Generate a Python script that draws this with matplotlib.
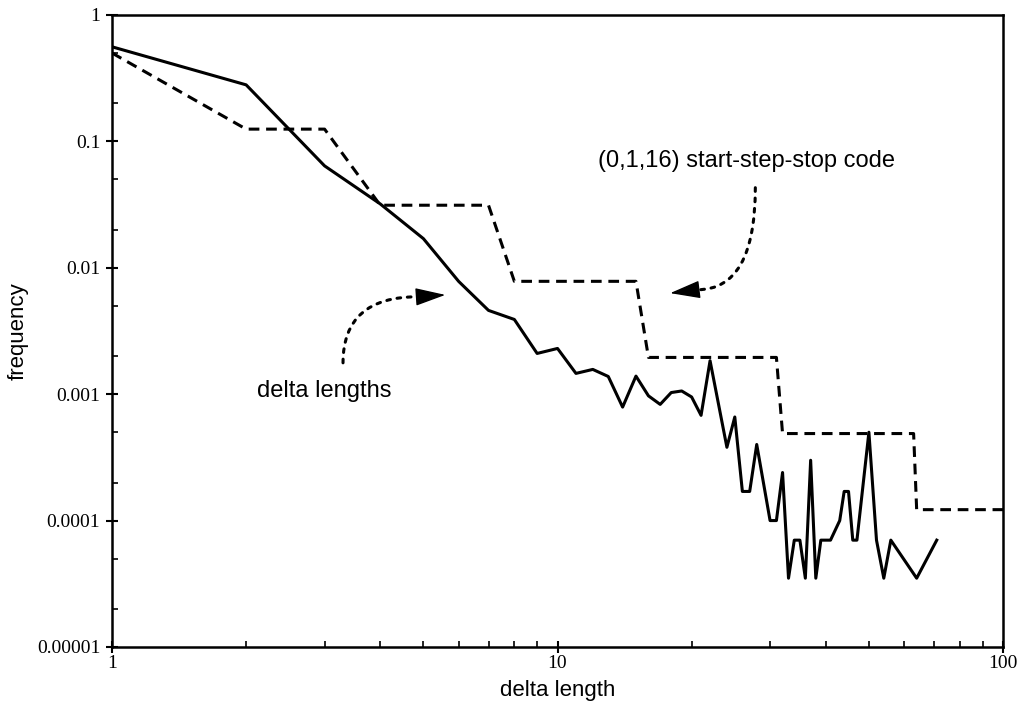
import matplotlib
matplotlib.use("Agg")
import matplotlib.pyplot as plt
from matplotlib.ticker import FixedLocator, FixedFormatter, LogLocator, NullFormatter

# measured delta lengths (zero counts are not plotted)
delta_x = [1, 2, 3, 4, 5, 6, 7, 8, 9, 10, 11, 12, 13, 14, 15, 16, 17, 18, 19, 20,
           21, 22, 24, 25, 26, 27, 28, 30, 31, 32, 33, 34, 35, 36, 37, 38, 39, 41,
           43, 44, 45, 46, 47, 50, 52, 54, 56, 64, 71]
delta_freq = [0.56, 0.28, 0.064, 0.032, 0.017, 0.0078, 0.0046, 0.0039, 0.0021, 0.0023,
              0.00146, 0.00157, 0.00138, 0.00079, 0.00139, 0.00097, 0.00083, 0.00103,
              0.00106, 0.00095, 0.00068, 0.00184, 0.00038, 0.00066, 0.00017, 0.00017,
              0.0004, 0.0001, 0.0001, 0.00024, 0.000035, 0.00007, 0.00007, 0.000035,
              0.0003, 0.000035, 0.00007, 0.00007, 0.0001, 0.00017, 0.00017, 0.00007,
              0.00007, 0.0005, 0.00007, 0.000035, 0.00007, 0.000035, 0.00007]

# (0,1,16) start-step-stop code
code_x = [1, 2, 3, 4, 7, 8, 15, 16, 31, 32, 63, 64, 100]
code_freq = [0.5, 0.125, 0.125, 0.03125, 0.03125, 0.0078125, 0.0078125,
             0.001953, 0.001953, 0.000488, 0.000488, 0.000122, 0.000122]

ytick_vals = [1e-5, 1e-4, 1e-3, 1e-2, 1e-1, 1]
ytick_labels = ["0.00001", "0.0001", "0.001", "0.01", "0.1", "1"]
xtick_vals = [1, 10, 100]
xtick_labels = ["1", "10", "100"]

sans = ["Liberation Sans", "DejaVu Sans"]
serif = ["Liberation Serif", "DejaVu Serif"]

fig = plt.figure(figsize=(10.24, 7.03), dpi=100)
ax = fig.add_axes([0.1094, 0.0797, 0.8701, 0.899])

ax.plot(delta_x, delta_freq, color="black", lw=2.2)
ax.plot(code_x, code_freq, color="black", lw=2.2, linestyle=(0, (3.5, 2.2)))

ax.set_xscale("log")
ax.set_yscale("log")
ax.set_xlim(1, 100)
ax.set_ylim(1e-5, 1)

ax.yaxis.set_major_locator(FixedLocator(ytick_vals))
ax.yaxis.set_major_formatter(FixedFormatter(ytick_labels))
ax.xaxis.set_major_locator(FixedLocator(xtick_vals))
ax.xaxis.set_major_formatter(FixedFormatter(xtick_labels))
ax.xaxis.set_minor_locator(LogLocator(base=10, subs=range(2, 10)))
ax.yaxis.set_minor_locator(LogLocator(base=10, subs=(2, 5)))
ax.xaxis.set_minor_formatter(NullFormatter())
ax.yaxis.set_minor_formatter(NullFormatter())

ax.tick_params(which="major", direction="inout", length=9, width=1.5,
               labelsize=14, top=False, right=False)
ax.tick_params(axis="x", which="major", pad=1)
ax.tick_params(axis="y", which="major", pad=4)
ax.tick_params(which="minor", direction="in", length=4, width=1.2,
               top=False, right=False)
for lab in ax.get_xticklabels() + ax.get_yticklabels():
    lab.set_family(serif)

for sp in ax.spines.values():
    sp.set_linewidth(1.8)

ax.set_xlabel("delta length", family=sans, fontsize=16, labelpad=6)
ax.set_ylabel("frequency", family=sans, fontsize=16, labelpad=6)

ax.text(26.5, 0.07, "(0,1,16) start-step-stop code", family=sans, fontsize=17,
        ha="center", va="center")
ax.text(2.99, 0.00106, "delta lengths", family=sans, fontsize=17,
        ha="center", va="center")

# dotted curves, then solid heads on top
curve = dict(arrowstyle="-", color="black", lw=2.2, linestyle=(0, (1.2, 2.2)),
             shrinkA=0, shrinkB=0, connectionstyle="angle3,angleA=90,angleB=0")
head = dict(arrowstyle="-|>,head_length=0.95,head_width=0.28", mutation_scale=20,
            color="black", fc="black", lw=1, shrinkA=0, shrinkB=0)

ax.annotate("", xy=(20.6, 0.0067), xytext=(27.8, 0.043), arrowprops=curve)
ax.annotate("", xy=(17.9, 0.0063), xytext=(20.6, 0.0067), arrowprops=head)

ax.annotate("", xy=(4.86, 0.0059), xytext=(3.3, 0.00177), arrowprops=curve)
ax.annotate("", xy=(5.6, 0.0061), xytext=(4.86, 0.0059), arrowprops=head)

fig.savefig("out.png", dpi=100)
